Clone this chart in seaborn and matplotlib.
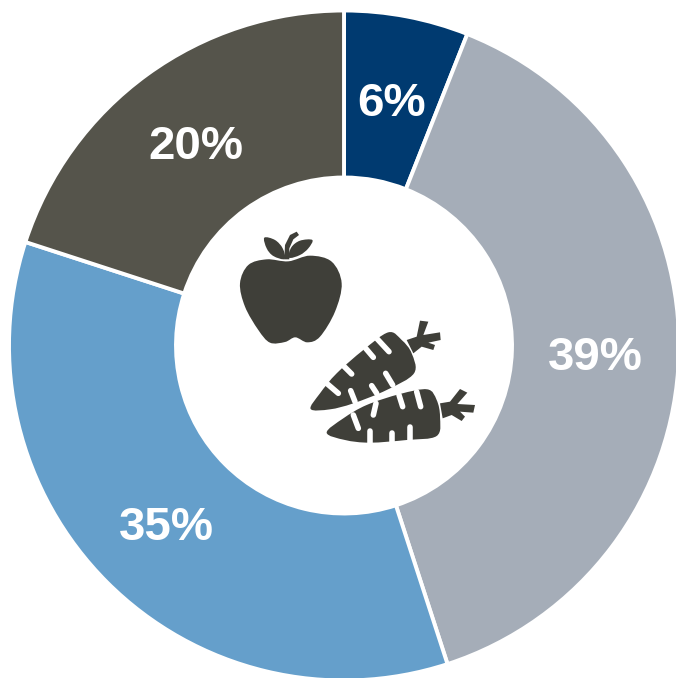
import matplotlib
matplotlib.use("Agg")
import matplotlib.pyplot as plt
import seaborn as sns
from matplotlib.path import Path
from matplotlib.patches import PathPatch

sns.set_theme(style="white")
plt.rcParams["font.family"] = ["Liberation Sans", "DejaVu Sans"]

# Share of each group, clockwise from twelve o'clock
shares = [6, 39, 35, 20]
share_labels = ["6%", "39%", "35%", "20%"]
palette = sns.color_palette(["#003A70", "#A5ADB8", "#659FCB", "#55544B"])
ICON = "#3F3F39"

W, H = 676, 678
fig = plt.figure(figsize=(W / 100, H / 100), dpi=100, facecolor="white")

# Ring: centred at (344, 345.5) px with a radius of 335 px
R = 335
ax = fig.add_axes([(344 - R) / W, 1 - (345.5 + R) / H, 2 * R / W, 2 * R / H])
ax.pie(shares, colors=palette, startangle=90, counterclock=False, radius=1,
       wedgeprops=dict(width=167 / R, edgecolor="white", linewidth=2.8))
ax.set_xlim(-1, 1)
ax.set_ylim(-1, 1)
ax.set_aspect("equal")
ax.axis("off")

# Overlay in pixel coordinates for labels and icons
ov = fig.add_axes([0, 0, 1, 1], facecolor="none")
ov.set_xlim(0, W)
ov.set_ylim(H, 0)
ov.axis("off")

label_pos = [(392, 104), (595.5, 358), (166, 528), (196, 147)]
for txt, (x, y) in zip(share_labels, label_pos):
    ov.text(x, y, txt, color="white", fontsize=34.2, fontweight="bold",
            ha="center", va="center")


def smooth_shape(points, ox=220, oy=220, scale=1 / 3):
    """Closed Catmull-Rom outline turned into cubic Bezier segments."""
    pts = [(ox + x * scale, oy + y * scale) for x, y in points]
    n = len(pts)
    verts, codes = [pts[0]], [Path.MOVETO]
    for i in range(n):
        p0, p1, p2, p3 = pts[i - 1], pts[i], pts[(i + 1) % n], pts[(i + 2) % n]
        c1 = (p1[0] + (p2[0] - p0[0]) / 6, p1[1] + (p2[1] - p0[1]) / 6)
        c2 = (p2[0] - (p3[0] - p1[0]) / 6, p2[1] - (p3[1] - p1[1]) / 6)
        verts += [c1, c2, p2]
        codes += [Path.CURVE4] * 3
    return Path(verts, codes)


def polygon(points, ox=220, oy=220, scale=1 / 3):
    pts = [(ox + x * scale, oy + y * scale) for x, y in points]
    return Path(pts + [pts[0]], [Path.MOVETO] + [Path.LINETO] * (len(pts) - 1) + [Path.CLOSEPOLY])


def fill(path, color=ICON):
    ov.add_patch(PathPatch(path, facecolor=color, edgecolor="none"))


def slit(x0, y0, x1, y1, width=4.0):
    ov.plot([220 + x0 / 3, 220 + x1 / 3], [220 + y0 / 3, 220 + y1 / 3], color="white",
            lw=width, solid_capstyle="round")


# Apple body, leaves and stem
fill(smooth_shape([(205, 124), (270, 107), (335, 125), (365, 190), (345, 275), (300, 350),
                   (262, 367), (226, 352), (195, 366), (150, 368), (115, 330), (75, 260),
                   (60, 190), (85, 135), (140, 118)]))
fill(smooth_shape([(133, 53), (165, 60), (188, 85), (194, 117), (160, 108), (140, 85)]))
fill(smooth_shape([(277, 60), (240, 62), (214, 82), (207, 113), (240, 105), (265, 85)]))
fill(polygon([(193, 118), (195, 75), (210, 45), (230, 35), (237, 45), (220, 58), (208, 85), (208, 118)]))

# Upper carrot
fill(smooth_shape([(272, 567), (300, 520), (350, 460), (430, 390), (505, 337), (545, 360),
                   (575, 400), (582, 460), (500, 510), (400, 550), (330, 568)]))
fill(polygon([(560, 360), (590, 350), (600, 302), (625, 305), (610, 345), (660, 337), (662, 360),
              (625, 368), (645, 375), (640, 390), (605, 380), (580, 400)]))
# Lower carrot
fill(smooth_shape([(320, 638), (370, 595), (440, 555), (540, 522), (622, 508), (650, 540),
                   (660, 590), (650, 648), (560, 660), (450, 668), (375, 660)]))
fill(polygon([(660, 550), (690, 545), (720, 507), (742, 518), (712, 552), (765, 555), (760, 578),
              (720, 575), (735, 590), (725, 603), (695, 585), (668, 595)]))

# Notches cut into the carrots
for seg in [(320, 490, 355, 520), (370, 437, 395, 462), (437, 385, 460, 412), (470, 355, 507, 395),
            (392, 512, 405, 545), (455, 497, 470, 520), (497, 460, 518, 495),
            (400, 585, 415, 625), (468, 550, 460, 585), (537, 525, 548, 560), (590, 515, 602, 560),
            (450, 632, 450, 672), (517, 640, 517, 670), (570, 620, 570, 665)]:
    slit(*seg)

fig.savefig("out.png", dpi=100, facecolor="white")
